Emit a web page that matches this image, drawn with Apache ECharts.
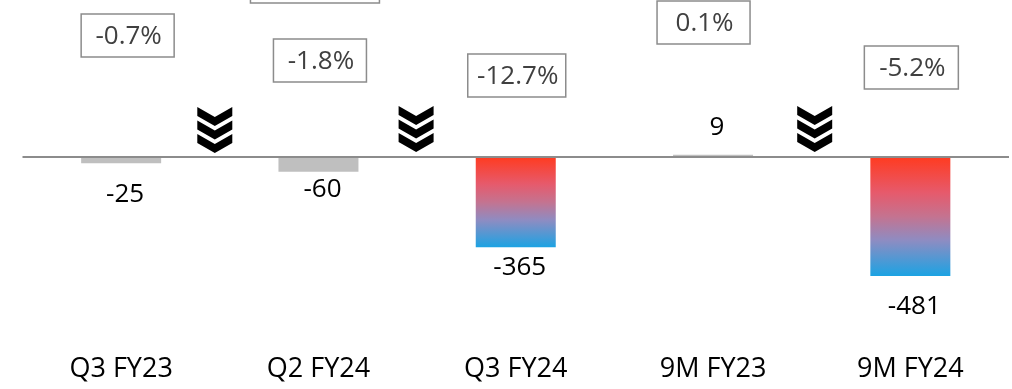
<!DOCTYPE html>
<html>
<head>
<meta charset="utf-8">
<script src="https://cdn.jsdelivr.net/npm/echarts@6/dist/echarts.min.js"></script>
<style>
  html, body { margin: 0; padding: 0; background: #fff; }
  #chart { width: 1012px; height: 389px; }
</style>
</head>
<body>
<div id="chart"></div>
<script>
// ---- data ----
const categories = ['Q3 FY23', 'Q2 FY24', 'Q3 FY24', '9M FY23', '9M FY24'];
const values = [-25, -60, -365, 9, -481];
const pctLabels = ['-0.7%', '-1.8%', '-12.7%', '0.1%', '-5.2%'];

// ---- styling / layout (not data) ----
const FONT = '"Open Sans", "Noto Sans", sans-serif';
const gradientIdx = [2, 4];
const labelDist = [18, 5, 7, 14, 18];
const boxTop = [14, 39, 54, 1, 46];
const boxW = [93, 93, 98, 93, 94];
const boxDx = [6.5, 1.5, 1, -9.5, 1];
const chevronAfter = [0, 1, 3];       // chevron between category i and i+1
const chevronDx = [-5, -1, 3];
const chevronTop = [107, 106, 106];

const grad = {
  type: 'linear', x: 0, y: 0, x2: 0, y2: 1,
  colorStops: [
    { offset: 0, color: '#FF3B20' },
    { offset: 0.3, color: '#E65A6C' },
    { offset: 0.5, color: '#C47390' },
    { offset: 0.7, color: '#8E8CC2' },
    { offset: 1, color: '#1BA3E3' }
  ]
};

const chart = echarts.init(document.getElementById('chart'), null, { renderer: 'canvas' });

const seriesData = values.map((v, i) => ({
  value: v,
  itemStyle: { color: gradientIdx.includes(i) ? grad : '#BFBFBF' },
  label: { distance: labelDist[i] }
}));

chart.setOption({
  animation: false,
  grid: { left: 22.5, right: 3, top: 8.5, bottom: 43.9, containLabel: false },
  xAxis: {
    type: 'category',
    data: categories,
    axisLine: { show: false },
    axisTick: { show: false },
    axisLabel: {
      margin: 11, fontSize: 27, lineHeight: 27, color: '#000', fontFamily: FONT
    }
  },
  yAxis: {
    type: 'value', min: -760, max: 600, show: false,
    splitLine: { show: false }
  },
  series: [{
    type: 'bar',
    data: seriesData,
    barWidth: 80,
    label: {
      show: true, position: 'outside', offset: [4, 0],
      fontSize: 26, lineHeight: 26, color: '#000', fontFamily: FONT
    },
    markLine: {
      silent: true, symbol: 'none',
      label: { show: false },
      lineStyle: { color: '#8C8C8C', width: 2, type: 'solid' },
      data: [{ yAxis: 0 }]
    }
  }]
});

function cx(i) { return chart.convertToPixel({ xAxisIndex: 0 }, categories[i]); }

const graphics = [];
// cut-off box at top (its content lies above the visible area)
graphics.push({
  type: 'rect', shape: { x: cx(1) - 3.5 - 64.5, y: -40, width: 129, height: 43 },
  style: { fill: '#fff', stroke: '#8C8C8C', lineWidth: 1.5 }, z: 10
});
pctLabels.forEach((t, i) => {
  const c = cx(i) + boxDx[i];
  graphics.push({
    type: 'rect',
    shape: { x: c - boxW[i] / 2, y: boxTop[i], width: boxW[i], height: 43 },
    style: { fill: '#fff', stroke: '#8C8C8C', lineWidth: 1.5 }, z: 10
  });
  graphics.push({
    type: 'text', x: c + 1, y: boxTop[i] + 23, z: 11,
    style: {
      text: t, fill: '#404040', font: '26px ' + FONT,
      align: 'center', verticalAlign: 'middle',
      textAlign: 'center', textVerticalAlign: 'middle'
    }
  });
});
// chevrons
const chevPts = (o) => [[0, o], [17.5, o + 10], [35, o], [35, o + 9], [17.5, o + 19], [0, o + 9]];
chevronAfter.forEach((k, j) => {
  const mid = (cx(k) + cx(k + 1)) / 2 + chevronDx[j];
  const children = [0, 13.5, 27].map(o => ({
    type: 'polygon', shape: { points: chevPts(o) }, style: { fill: '#000' }
  }));
  graphics.push({ type: 'group', x: mid - 17.5, y: chevronTop[j], children: children, z: 12 });
});

chart.setOption({ graphic: graphics });
</script>
</body>
</html>
